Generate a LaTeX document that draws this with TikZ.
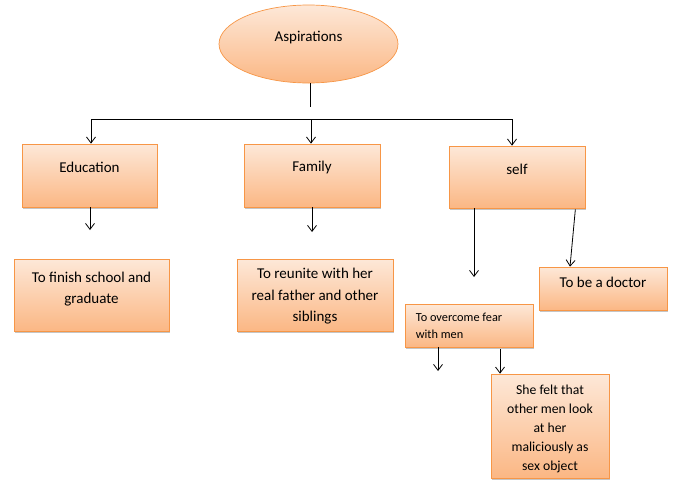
\documentclass[tikz,border=0pt]{standalone}
\usepackage{fontspec}
\setmainfont{Carlito}
\usetikzlibrary{arrows.meta,shapes.geometric,shadows}
\definecolor{boxline}{HTML}{F79646}
\definecolor{boxtop}{HTML}{FDE8D8}
\definecolor{boxbot}{HTML}{FBB784}
\begin{document}
\begin{tikzpicture}[x=1pt,y=-1pt,
  box/.style={draw=boxline, line width=0.7pt, top color=boxtop, bottom color=boxbot,
    drop shadow={shadow xshift=1.2pt,shadow yshift=-1.8pt,fill=black!45,opacity=0.5},
    inner sep=0pt},
  boxtext/.style={font=\fontsize{15}{21.5}\selectfont, align=center, inner sep=0pt},
  arr/.style={-{Straight Barb[length=6pt,width=9pt]}, line width=0.8pt},
  ln/.style={line width=0.8pt}]
\useasboundingbox (0,0) rectangle (676,480);

% root
\node[ellipse, draw=boxline, line width=0.7pt, top color=boxtop, bottom color=boxbot,
  minimum width=179pt, minimum height=78pt, inner sep=0pt,
  label={[boxtext, yshift=6pt]center:Aspirations}] (asp) at (308.5,44) {};

% level 1
\node[box, minimum width=135pt, minimum height=63pt,
  label={[boxtext, yshift=8pt]center:Education}] (edu) at (89.5,175.5) {};
\node[box, minimum width=136pt, minimum height=63pt,
  label={[boxtext, yshift=8pt]center:Family}] (fam) at (312,175.5) {};
\node[box, minimum width=136pt, minimum height=62pt,
  label={[boxtext, yshift=7.5pt]center:self}] (self) at (517,177) {};

% level 2
\node[box, minimum width=155pt, minimum height=72pt,
  label={[boxtext, yshift=6pt]center:To finish school and\\graduate}] (fin) at (91.5,295) {};
\node[box, minimum width=156pt, minimum height=72pt,
  label={[boxtext, yshift=-1.5pt]center:To reunite with her\\real father and other\\siblings}] (reu) at (315,295) {};
\node[box, minimum width=128pt, minimum height=43pt,
  label={[boxtext, yshift=6pt]center:To be a doctor}] (doc) at (603,288.5) {};
\node[box, minimum width=128pt, minimum height=43pt,
  label={[font=\fontsize{12.3}{17}\selectfont, align=left, inner sep=0pt, anchor=west, xshift=11pt, yshift=0pt]west:To overcome fear\\with men}] (over) at (469,325.5) {};
\node[box, minimum width=118pt, minimum height=104pt,
  label={[font=\fontsize{13.7}{19}\selectfont, align=center, inner sep=0pt, yshift=-2.5pt]center:She felt that\\other men look\\at her\\maliciously as\\sex object}] (she) at (550,426) {};

% connector coordinates
\coordinate (stem) at (310,107);
\coordinate (busL) at (91,119);
\coordinate (busM) at (311,119);
\coordinate (busR) at (512,119);
\coordinate (eduEnd) at (90,230);
\coordinate (famEnd) at (312,232);
\coordinate (selfEnd) at (474,277);
\coordinate (overEnd) at (438,371);

% connectors
\draw[ln] (asp.south -| stem) -- (stem);
\draw[ln] (busL) -- (busR);
\draw[arr] (busL) -- (busL |- edu.north);
\draw[arr] (busM) -- (busM |- fam.north);
\draw[arr] (busR) -- (busR |- self.north);
\draw[arr] (edu.south -| eduEnd) -- (eduEnd);
\draw[arr] (fam.south -| famEnd) -- (famEnd);
\draw[arr] (self.south -| selfEnd) -- (selfEnd);
\draw[arr] ([xshift=-10pt,yshift=-1pt]self.south east) -- ([xshift=-33pt]doc.north);
\draw[arr] (over.south -| overEnd) -- (overEnd);
\draw[arr] ([xshift=31pt,yshift=-2pt]over.south) -- ([xshift=-50pt]she.north);
\end{tikzpicture}
\end{document}
